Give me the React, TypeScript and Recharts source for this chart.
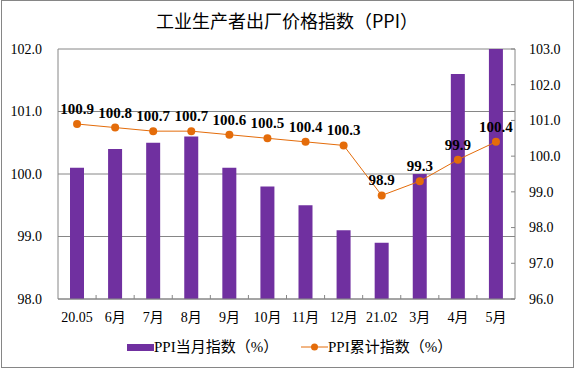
import React from "react";
import {
  ComposedChart,
  Bar,
  Line,
  XAxis,
  YAxis,
  CartesianGrid,
  LabelList,
} from "recharts";

const categories = ["20.05", "6月", "7月", "8月", "9月", "10月", "11月", "12月", "21.02", "3月", "4月", "5月"];
const monthly = [100.1, 100.4, 100.5, 100.6, 100.1, 99.8, 99.5, 99.1, 98.9, 100.0, 101.6, 102.0];
const cumulative = [100.9, 100.8, 100.7, 100.7, 100.6, 100.5, 100.4, 100.3, 98.9, 99.3, 99.9, 100.4];
const leftTicks = [98, 99, 100, 101, 102];
const rightTicks = [96, 97, 98, 99, 100, 101, 102, 103];

const data = categories.map((c, i) => ({ cat: c, monthly: monthly[i], cumulative: cumulative[i] }));

const PURPLE = "#7030A0";
const ORANGE = "#E46C0A";
const GRID = "#868686";
const FONT = "'Liberation Serif', 'Times New Roman', 'Noto Sans CJK SC', serif";
const CJK = "'Noto Sans CJK SC', 'Liberation Serif', serif";

const LeftTick = (props: any) => {
  const { x, y, payload } = props;
  return (
    <text x={x} y={y} dy="0.35em" textAnchor="end" fontSize={14} fontFamily={FONT} fill="#000">
      {Number(payload.value).toFixed(1)}
    </text>
  );
};

const RightTick = (props: any) => {
  const { x, y, payload } = props;
  const axisX = x - 14;
  return (
    <g>
      <line x1={axisX - 4} x2={axisX} y1={y} y2={y} stroke={GRID} />
      <text x={x} y={y} dy="0.35em" textAnchor="start" fontSize={14} fontFamily={FONT} fill="#000">
        {Number(payload.value).toFixed(1)}
      </text>
    </g>
  );
};

const BottomTick = (props: any) => {
  const { x, y, payload, index, width, visibleTicksCount } = props;
  const half = width / visibleTicksCount / 2;
  const axisY = y - 10;
  return (
    <g>
      {index < visibleTicksCount - 1 && (
        <line x1={x + half} x2={x + half} y1={axisY} y2={axisY - 4} stroke={GRID} />
      )}
      <text x={x} y={axisY + 18} dy="0.35em" textAnchor="middle" fontSize={14} fontFamily={FONT} fill="#000">
        {payload.value}
      </text>
    </g>
  );
};

export default function App() {
  return (
    <div style={{ position: "absolute", left: 0, top: 0, width: 574, height: 369, background: "#fff" }}>
      <div
        style={{
          position: "absolute",
          left: 1,
          top: 0,
          width: 573,
          height: 368,
          border: `1px solid ${GRID}`,
          boxSizing: "border-box",
        }}
      />
      <div
        style={{
          position: "absolute",
          left: 0,
          top: 9,
          width: 574,
          textAlign: "center",
          fontSize: 18,
          fontFamily: CJK,
          color: "#000",
          lineHeight: "22px",
        }}
      >
        工业生产者出厂价格指数（PPI）
      </div>
      <ComposedChart
        width={574}
        height={369}
        data={data}
        margin={{ top: 49, right: 0, bottom: 0, left: 0 }}
        barSize={14}
      >
        <CartesianGrid yAxisId="left" vertical={false} stroke={GRID} />
        <XAxis
          dataKey="cat"
          height={70}
          axisLine={{ stroke: GRID }}
          tickLine={false}
          tickSize={0}
          tickMargin={10}
          interval={0}
          tick={<BottomTick />}
        />
        <YAxis
          yAxisId="left"
          width={58}
          domain={[98, 102]}
          ticks={leftTicks}
          axisLine={{ stroke: GRID }}
          tickLine={false}
          tickSize={0}
          tickMargin={16}
          tick={<LeftTick />}
        />
        <YAxis
          yAxisId="right"
          orientation="right"
          width={59}
          domain={[96, 103]}
          ticks={rightTicks}
          axisLine={{ stroke: GRID }}
          tickLine={false}
          tickSize={0}
          tickMargin={14}
          tick={<RightTick />}
        />
        <Bar yAxisId="left" dataKey="monthly" fill={PURPLE} isAnimationActive={false} />
        <Line
          yAxisId="right"
          dataKey="cumulative"
          stroke={ORANGE}
          strokeWidth={1}
          dot={{ r: 4, fill: ORANGE, stroke: "none" }}
          activeDot={false}
          isAnimationActive={false}
        >
          <LabelList
            dataKey="cumulative"
            position="top"
            offset={10}
            formatter={(v: any) => Number(v).toFixed(1)}
            style={{ fontSize: 15, fontWeight: "bold", fontFamily: FONT, fill: "#000" }}
          />
        </Line>
      </ComposedChart>
      {/* legend */}
      <div
        style={{
          position: "absolute",
          left: 127,
          top: 337,
          display: "flex",
          alignItems: "center",
          fontSize: 15,
          fontFamily: FONT,
          color: "#000",
          lineHeight: "20px",
        }}
      >
        <span style={{ display: "inline-block", width: 27, height: 7, background: PURPLE }} />
        <span>PPI当月指数（%）</span>
      </div>
      <div
        style={{
          position: "absolute",
          left: 301,
          top: 337,
          display: "flex",
          alignItems: "center",
          fontSize: 15,
          fontFamily: FONT,
          color: "#000",
          lineHeight: "20px",
        }}
      >
        <svg width={27} height={10}>
          <line x1={0} x2={27} y1={5} y2={5} stroke={ORANGE} strokeWidth={1} />
          <circle cx={13.5} cy={5} r={3.5} fill={ORANGE} />
        </svg>
        <span>PPI累计指数（%）</span>
      </div>
    </div>
  );
}
